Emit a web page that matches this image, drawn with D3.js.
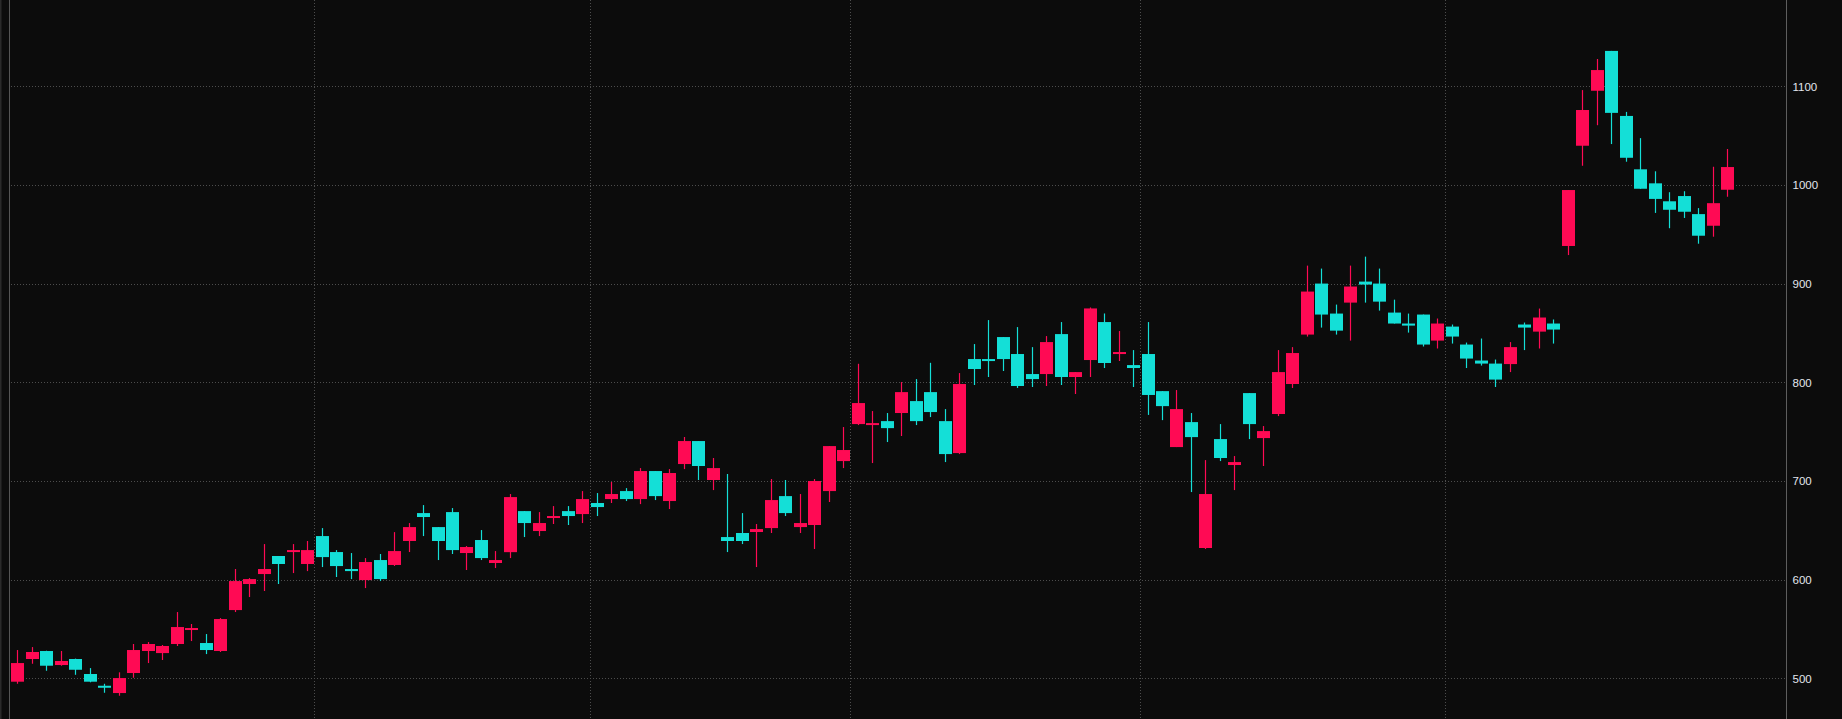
<!DOCTYPE html>
<html>
<head>
<meta charset="utf-8">
<script src="https://cdn.jsdelivr.net/npm/d3@7"></script>
<style>
  html, body { margin: 0; padding: 0; background: #0c0c0c; overflow: hidden; }
  svg { display: block; }
</style>
</head>
<body>
<svg id="chart" width="1842" height="719"></svg>
<script>
// ---- data ----
const open = [
496.6,519.6,527.7,513.5,519.6,504.4,492.5,485.1,505.4,527.7,
525.6,534.8,549.0,535.8,527.7,569.2,595.6,605.7,624.0,629.0,
615.9,644.2,628.0,610.8,599.6,619.9,614.9,639.2,667.5,653.3,
668.5,627.0,640.2,616.9,627.9,669.5,649.3,662.5,669.5,666.5,
677.7,681.7,689.8,681.7,710.1,679.7,717.2,740.5,701.0,643.2,
647.3,648.3,652.3,684.7,653.3,655.4,689.8,720.2,757.7,756.7,
760.7,768.9,781.0,790.1,760.7,728.3,823.6,823.6,845.9,828.7,
808.4,808.4,848.9,805.4,822.6,861.1,829.7,817.5,828.7,791.1,
734.4,759.7,632.1,742.5,716.2,789.1,743.5,767.9,798.3,848.4,
900.1,869.7,880.8,902.1,900.1,870.7,859.6,868.7,842.3,856.5,
838.3,822.1,819.0,818.5,858.6,851.4,859.6,938.2,1039.8,1095.5,
1135.9,1070.0,1015.9,1001.7,983.5,988.8,970.5,958.7,995.2];
const high = [
528.7,531.7,528.0,527.7,520.0,510.4,494.5,506.1,534.8,536.8,
533.8,567.2,555.1,544.9,561.1,610.8,601.6,636.1,624.0,636.1,
639.2,652.3,630.0,627.0,621.9,626.0,648.2,657.4,675.6,653.3,
672.6,634.1,650.3,629.0,686.8,669.5,668.5,674.6,674.6,689.8,
687.8,699.0,692.8,713.1,710.1,712.1,744.6,740.5,723.3,707.1,
667.5,656.4,702.0,701.0,686.8,702.0,735.4,754.7,818.8,770.9,
768.9,800.3,803.3,819.8,772.9,809.4,838.8,863.1,845.9,856.0,
835.7,846.9,861.1,810.4,875.9,869.8,852.0,832.7,861.1,791.1,
792.2,768.9,721.2,757.7,725.3,789.1,755.7,832.7,835.7,918.3,
915.3,878.8,918.3,927.4,915.3,883.8,869.7,868.7,864.7,858.6,
840.3,844.4,823.1,840.8,860.6,874.8,863.7,994.9,1096.2,1127.7,
1135.9,1074.1,1047.5,1013.9,992.7,993.7,976.6,1018.5,1036.5];
const low = [
494.5,514.8,507.7,512.8,503.6,496.0,485.4,482.4,500.6,515.5,
518.6,532.8,537.8,524.6,526.7,567.2,582.4,588.5,595.6,606.7,
608.7,612.8,602.7,600.6,591.5,598.6,613.9,628.0,644.2,619.9,
626.0,609.8,619.9,611.8,621.9,643.2,644.2,656.4,655.4,657.4,
664.5,677.7,679.7,676.6,680.7,671.6,712.1,701.0,690.8,628.0,
636.1,612.8,647.3,664.5,647.3,631.1,678.7,713.1,756.7,718.2,
739.5,745.6,756.7,764.8,719.2,727.3,797.3,805.4,811.5,794.3,
795.3,796.3,797.3,788.2,805.4,814.5,821.6,795.3,767.0,761.7,
734.4,688.8,631.1,720.2,690.8,742.5,715.2,765.8,794.3,846.4,
855.5,848.4,842.3,880.8,872.7,859.6,850.4,836.3,834.3,839.3,
814.5,817.0,795.3,810.4,832.7,834.3,839.3,929.0,1019.5,1060.6,
1041.5,1023.6,996.2,971.7,956.2,966.6,940.5,947.6,988.1];
const close = [
515.5,526.7,512.8,517.6,508.7,496.6,490.5,500.3,528.7,534.8,
532.8,552.0,551.0,528.7,560.1,598.6,600.6,610.8,615.9,630.0,
630.0,622.9,613.8,608.7,617.9,600.6,629.0,653.3,663.5,639.2,
630.0,633.1,621.9,619.9,683.7,657.4,657.4,664.5,664.5,681.7,
673.6,686.8,681.7,710.1,684.7,708.1,740.5,715.2,713.1,639.2,
639.2,651.3,680.7,667.5,657.4,700.0,735.4,731.4,779.0,758.7,
753.6,790.1,760.7,769.9,727.3,798.3,813.5,821.6,823.6,796.3,
803.3,840.8,805.4,810.4,874.9,819.6,830.7,814.5,787.2,775.9,
772.9,744.5,686.8,723.3,719.2,757.7,750.6,810.4,829.7,892.0,
868.7,852.4,897.1,899.1,881.8,859.6,857.5,838.3,859.6,846.4,
824.1,819.0,802.8,835.7,855.5,865.7,853.5,994.9,1076.0,1116.5,
1073.1,1027.6,996.2,985.9,974.9,972.9,948.6,981.6,1018.2];
// candle indices where a new period starts (vertical grid lines)
const periodStarts = [21, 40, 58, 78, 99];
// price tick labels
const priceTicks = [500, 600, 700, 800, 900, 1000, 1100];

// ---- layout & styles ----
const W = 1842, H = 719;
const axisX = 1786.5;
const plotLeft = 9.5;
const UP = "#ff0a54", DOWN = "#14dfd7";
const BG = "#0c0c0c";

const svg = d3.select("#chart");
svg.append("rect").attr("width", W).attr("height", H).attr("fill", BG);
svg.append("rect").attr("x", 0).attr("y", 0).attr("width", 1.5).attr("height", H).attr("fill", "#2a2a2a");

const idx = d3.range(open.length);
const x = d3.scaleBand().domain(idx).range([10.05, 10.05 + 14.49 * open.length]).padding(0);
const y = d3.scaleLinear().domain([458.8, 1187.5]).range([H, 0]);

// grid
const grid = svg.append("g").attr("shape-rendering", "crispEdges");
grid.selectAll("line.h").data(priceTicks).join("line")
  .attr("x1", plotLeft + 1).attr("x2", axisX - 2)
  .attr("y1", d => Math.round(y(d)) + 0.5).attr("y2", d => Math.round(y(d)) + 0.5)
  .attr("stroke", "#4d4d4d").attr("stroke-width", 1).attr("stroke-dasharray", "1,2");
grid.selectAll("line.v").data(periodStarts).join("line")
  .attr("x1", d => Math.round(x(d)) + 0.5).attr("x2", d => Math.round(x(d)) + 0.5)
  .attr("y1", 0).attr("y2", H)
  .attr("stroke", "#4d4d4d").attr("stroke-width", 1).attr("stroke-dasharray", "1,2");

// left border line
svg.append("line").attr("x1", plotLeft).attr("x2", plotLeft).attr("y1", 0).attr("y2", H)
  .attr("stroke", "#555").attr("stroke-width", 1).attr("shape-rendering", "crispEdges");

// candles
const bw = 13;
const cg = svg.append("g");
const candles = cg.selectAll("g.c").data(idx).join("g");
candles.append("line")
  .attr("x1", i => Math.round(x(i) + x.bandwidth() / 2) + 0.5)
  .attr("x2", i => Math.round(x(i) + x.bandwidth() / 2) + 0.5)
  .attr("y1", i => y(high[i])).attr("y2", i => y(low[i]))
  .attr("stroke", i => close[i] >= open[i] ? UP : DOWN)
  .attr("stroke-width", 1.2);
candles.append("rect")
  .attr("x", i => Math.round(x(i) + x.bandwidth() / 2) + 0.5 - bw / 2)
  .attr("width", bw)
  .attr("y", i => y(Math.max(open[i], close[i])))
  .attr("height", i => Math.max(2, Math.abs(y(open[i]) - y(close[i]))))
  .attr("fill", i => close[i] >= open[i] ? UP : DOWN);

// right price axis
const axis = d3.axisRight(y).tickValues(priceTicks).tickFormat(d3.format("d")).tickSize(0).tickPadding(6);
const ag = svg.append("g").attr("transform", `translate(${axisX},0)`).call(axis);
ag.select(".domain").attr("stroke", "#5e5e5e").attr("d", `M0,0V${H}`).attr("shape-rendering", "crispEdges");
ag.selectAll("text")
  .attr("fill", "#e2e6ec")
  .attr("font-family", "'Liberation Sans', Arial, sans-serif")
  .attr("font-size", "11.5px");
</script>
</body>
</html>
